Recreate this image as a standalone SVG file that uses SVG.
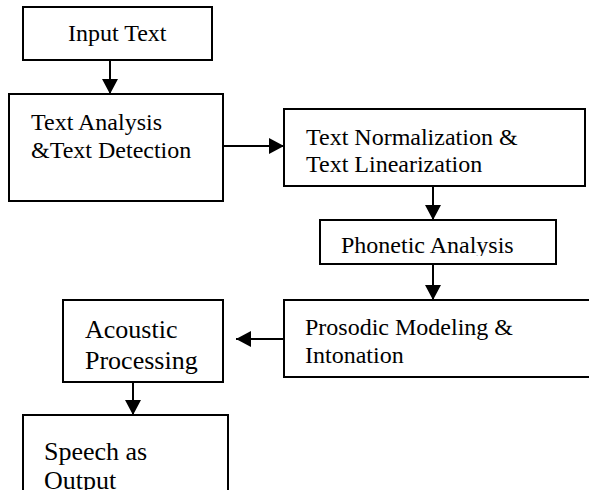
<svg xmlns="http://www.w3.org/2000/svg" width="589" height="490" viewBox="0 0 589 490">
<style>
.box{fill:#fff;stroke:#000;stroke-width:2}
.t{font-family:"Liberation Serif","Times New Roman",serif;font-size:24px;fill:#000}
.t26{font-size:26px}
.c{stroke:#000;stroke-width:2;fill:none;marker-end:url(#ah)}
</style>
<defs>
<marker id="ah" viewBox="0 0 15 16" refX="15" refY="8" markerWidth="15" markerHeight="16" markerUnits="userSpaceOnUse" orient="auto">
<path d="M0,0 L15,8 L0,16 z" fill="#000"/>
</marker>
<clipPath id="clipPh"><rect x="320" y="220" width="236" height="36"/></clipPath>
</defs>
<rect width="589" height="490" fill="#fff"/>
<g id="connectors">
<line class="c" x1="110" y1="60" x2="110" y2="94"/>
<line class="c" x1="223" y1="146" x2="284" y2="146"/>
<line class="c" x1="433" y1="186" x2="433" y2="220"/>
<line class="c" x1="433" y1="264" x2="433" y2="300"/>
<line class="c" x1="284" y1="339" x2="236" y2="339"/>
<line class="c" x1="133" y1="382" x2="133" y2="415"/>
</g>
<g id="input">
<rect class="box" x="23" y="7" width="189" height="53"/>
<text class="t" x="68" y="41">Input Text</text>
</g>
<g id="analysis">
<rect class="box" x="9" y="94" width="214" height="107"/>
<text class="t" x="31" y="130">Text Analysis</text>
<text class="t" x="31" y="158">&amp;Text Detection</text>
</g>
<g id="normalization">
<rect class="box" x="284" y="109" width="301" height="77"/>
<text class="t" x="306" y="145">Text Normalization &amp;</text>
<text class="t" x="306" y="172">Text Linearization</text>
</g>
<g id="phonetic">
<rect class="box" x="320" y="220" width="236" height="44"/>
<text class="t" x="341" y="253" clip-path="url(#clipPh)">Phonetic Analysis</text>
</g>
<g id="prosodic">
<rect class="box" x="284" y="300" width="320" height="77"/>
<text class="t" x="305" y="335">Prosodic Modeling &amp;</text>
<text class="t" x="305" y="363">Intonation</text>
</g>
<g id="acoustic">
<rect class="box" x="63" y="300" width="160" height="82"/>
<text class="t t26" x="85" y="338">Acoustic</text>
<text class="t t26" x="85" y="369">Processing</text>
</g>
<g id="speech">
<rect class="box" x="23" y="415" width="205" height="90"/>
<text class="t t26" x="44" y="460">Speech as</text>
<text class="t t26" x="44" y="489">Output</text>
</g>
</svg>
